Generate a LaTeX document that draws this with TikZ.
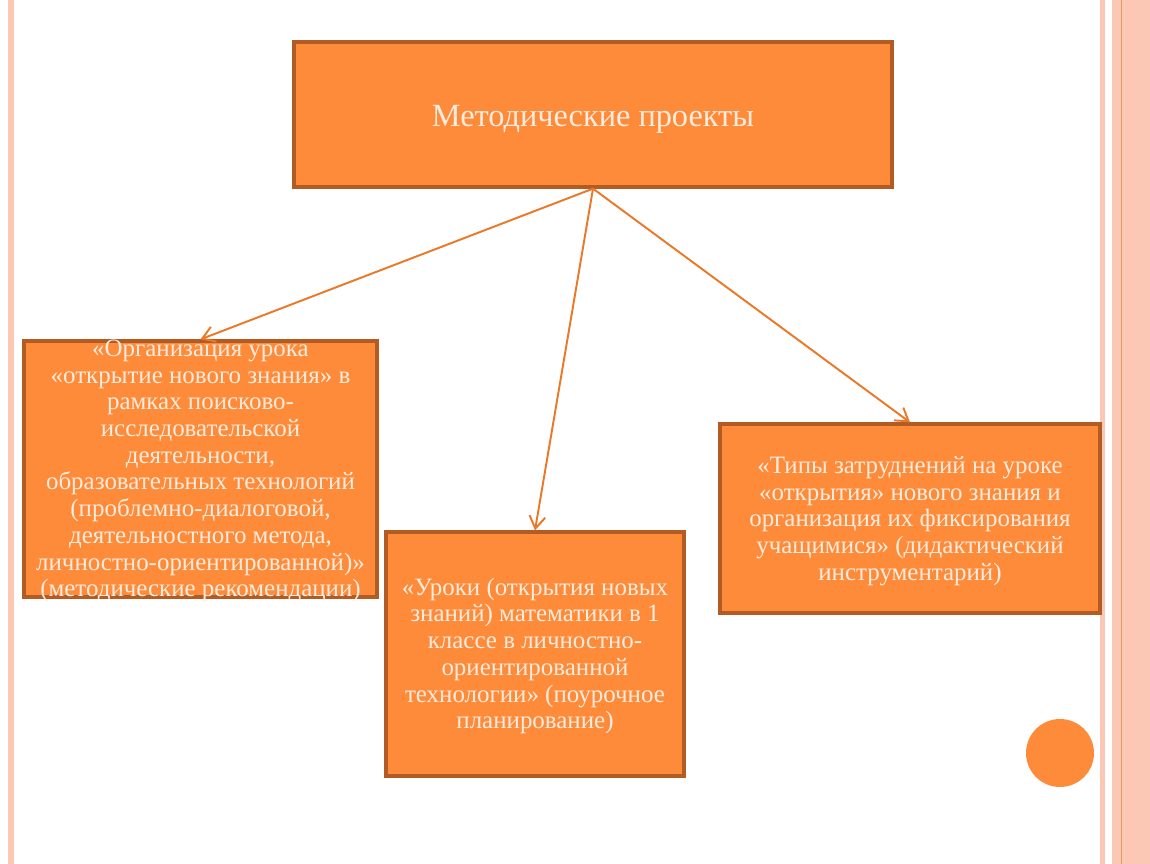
\documentclass[tikz,border=0pt]{standalone}
\usepackage{fontspec}
\setmainfont{Liberation Serif}
\definecolor{boxorange}{RGB}{253,139,58}
\definecolor{boxedge}{RGB}{178,92,36}
\definecolor{linkorange}{RGB}{234,120,40}
\definecolor{cardcream}{RGB}{255,236,222}
\definecolor{stripepink}{RGB}{250,200,180}
\definecolor{stripeline}{RGB}{238,150,100}
\usetikzlibrary{arrows.meta,positioning,fit,calc}

\begin{document}
\begin{tikzpicture}[x=0.02cm,y=-0.02cm,
    card/.style={draw=boxedge, line width=1.9pt, fill=boxorange, inner sep=0pt},
    cardtext/.style={text=cardcream, align=center, inner sep=0pt,
                     font=\fontsize{14.2}{15.2}\selectfont},
    link/.style={draw=linkorange, line width=1.1pt, -{Straight Barb[length=7pt,width=9pt]}}]
  \fill[white] (0,0) rectangle (1150,864);
  \useasboundingbox (0,0) rectangle (1150,864);
  % page stripes
  \fill[stripepink] (8,0) rectangle (14,864);
  \fill[stripepink] (1100,0) rectangle (1105,864);
  \fill[stripepink] (1112,0) rectangle (1150,864);
  \draw[stripeline, line width=0.4pt] (1121,0) -- (1121,864);

  \node[card, minimum width=11.96cm, minimum height=2.9cm] (top) at (593,114.5) {};
  \node[text=cardcream, font=\fontsize{18.4}{20}\selectfont] (toptxt) at (593,119) {Методические проекты};

  \node[card, minimum width=7.06cm, minimum height=5.12cm] (left) at (200.5,469) {};
  \node[card, minimum width=5.96cm, minimum height=4.88cm] (mid) at (535,654) {};
  \node[card, minimum width=7.6cm, minimum height=3.78cm] (right) at (910,518.5) {};

  \node[cardtext] (lefttxt) at (200.5,471) {«Организация урока\\
    «открытие нового знания» в\\
    рамках поисково-\\
    исследовательской\\
    деятельности,\\
    образовательных технологий\\
    (проблемно-диалоговой,\\
    деятельностного метода,\\
    личностно-ориентированной)»\\
    (методические рекомендации)};
  \node[cardtext] (midtxt) at (535,656) {«Уроки (открытия новых\\
    знаний) математики в 1\\
    классе в личностно-\\
    ориентированной\\
    технологии» (поурочное\\
    планирование)};
  \node[cardtext] (righttxt) at (910,521) {«Типы затруднений на уроке\\
    «открытия» нового знания и\\
    организация их фиксирования\\
    учащимися» (дидактический\\
    инструментарий)};

  \draw[link] (top.south) -- (left.north);
  \draw[link] (top.south) -- (mid.north);
  \draw[link] (top.south) -- (right.north);

  \node[circle, fill=boxorange, minimum size=1.36cm, inner sep=0pt] (dot) at (1060,753) {};
\end{tikzpicture}
\end{document}
